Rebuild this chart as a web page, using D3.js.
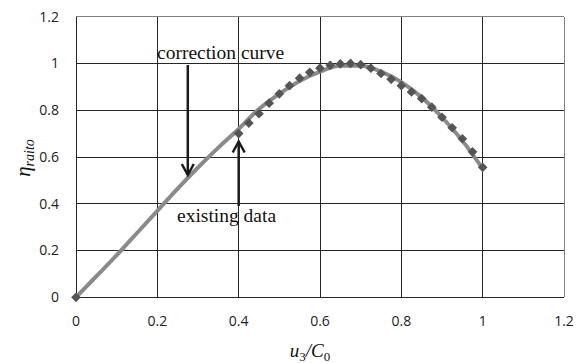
<!DOCTYPE html>
<html><head><meta charset="utf-8">
<script src="https://cdn.jsdelivr.net/npm/d3@7"></script>
<style>body{margin:0;background:#fff}svg{display:block}</style>
</head><body>
<script>
const xTicks = [0, 0.2, 0.4, 0.6, 0.8, 1, 1.2];
const yTicks = [0, 0.2, 0.4, 0.6, 0.8, 1, 1.2];
const corrX = [0, 0.05, 0.1, 0.15, 0.2, 0.25, 0.3, 0.35, 0.4, 0.45, 0.5, 0.55, 0.6, 0.65, 0.7, 0.75, 0.8, 0.85, 0.9, 0.95, 1.0];
const corrY = [0, 0.09, 0.18, 0.275, 0.37, 0.465, 0.555, 0.64, 0.72, 0.805, 0.87, 0.925, 0.965, 0.99, 0.99, 0.965, 0.92, 0.855, 0.77, 0.67, 0.55];
const existX = [0, 0.4, 0.425, 0.45, 0.475, 0.5, 0.525, 0.55, 0.575, 0.6, 0.625, 0.65, 0.675, 0.7, 0.725, 0.75, 0.775, 0.8, 0.825, 0.85, 0.875, 0.9, 0.925, 0.95, 0.975, 1.0];
const existY = [0, 0.70, 0.745, 0.785, 0.83, 0.87, 0.905, 0.937, 0.962, 0.98, 0.992, 0.998, 1.0, 0.995, 0.98, 0.957, 0.932, 0.905, 0.878, 0.85, 0.813, 0.77, 0.725, 0.678, 0.622, 0.556];

const W = 584, H = 363;
const svg = d3.select("body").append("svg").attr("width", W).attr("height", H);
const x = d3.scaleLinear().domain([0, 1.2]).range([76, 564]);
const y = d3.scaleLinear().domain([0, 1.2]).range([297.3, 16.7]);

// grid
svg.append("g").selectAll("line").data(xTicks).join("line")
  .attr("x1", d => x(d)).attr("x2", d => x(d)).attr("y1", y(0)).attr("y2", y(1.2))
  .attr("stroke", d => d === 1.2 ? "#808080" : "#262626").attr("stroke-width", 1).attr("shape-rendering", "crispEdges");
svg.append("g").selectAll("line").data(yTicks).join("line")
  .attr("y1", d => y(d)).attr("y2", d => y(d)).attr("x1", x(0)).attr("x2", x(1.2))
  .attr("stroke", d => d === 1.2 ? "#808080" : "#262626").attr("stroke-width", 1).attr("shape-rendering", "crispEdges");

// tick labels
const tickFont = "'Open Sans', 'Noto Sans', sans-serif";
svg.append("g").selectAll("text").data(yTicks).join("text")
  .attr("x", 59).attr("y", d => y(d)).attr("dy", "0.35em").attr("text-anchor", "end")
  .attr("font-family", tickFont).attr("font-size", 14).attr("fill", "#222").text(d => d);
svg.append("g").selectAll("text").data(xTicks).join("text")
  .attr("x", d => x(d)).attr("y", 321).attr("dy", "0.35em").attr("text-anchor", "middle")
  .attr("font-family", tickFont).attr("font-size", 14).attr("fill", "#222").text(d => d);

// correction curve
const corr = corrX.map((v, i) => [v, corrY[i]]);
svg.append("path").datum(corr)
  .attr("d", d3.line().x(d => x(d[0])).y(d => y(d[1])).curve(d3.curveMonotoneX))
  .attr("fill", "none").attr("stroke", "#8a8a8a").attr("stroke-width", 4);

// existing data
const exist = existX.map((v, i) => [v, existY[i]]);
svg.append("g").selectAll("path").data(exist).join("path")
  .attr("d", d3.symbol().type(d3.symbolDiamond2).size(60))
  .attr("transform", d => `translate(${x(d[0])},${y(d[1])})`)
  .attr("fill", "#555");

// annotations
const serif = "'Liberation Serif', 'DejaVu Serif', serif";
svg.append("text").attr("x", 157).attr("y", 58.5).attr("font-family", serif).attr("font-size", 19.5)
  .attr("fill", "#111").text("correction curve");
svg.append("text").attr("x", 177).attr("y", 222).attr("font-family", serif).attr("font-size", 19.5)
  .attr("fill", "#111").text("existing data");

function arrow(xp, y1, y2) {
  const g = svg.append("g").attr("stroke", "#1a1a1a").attr("stroke-width", 2.5).attr("fill", "none");
  g.append("line").attr("x1", xp).attr("x2", xp).attr("y1", y1).attr("y2", y2);
  const dir = y2 > y1 ? -1 : 1;
  g.append("path").attr("d", `M${xp - 6},${y2 + dir * 11}L${xp},${y2}L${xp + 6},${y2 + dir * 11}`);
}
arrow(187.8, 65, 175);
arrow(238.7, 206, 141.5);

// axis titles
svg.append("text").attr("x", 310).attr("y", 357).attr("text-anchor", "middle")
  .attr("font-family", serif).attr("font-size", 19).attr("font-style", "italic").attr("fill", "#111")
  .html('u<tspan font-size="13" dy="4" font-style="normal">3</tspan><tspan dy="-4">/C</tspan><tspan font-size="13" dy="4" font-style="normal">0</tspan>');
svg.append("text").attr("transform", "translate(30,158) rotate(-90)").attr("text-anchor", "middle")
  .attr("font-family", serif).attr("font-size", 21).attr("font-style", "italic").attr("fill", "#111")
  .html('η<tspan font-size="14" dy="4">raito</tspan>');
</script>
</body></html>
